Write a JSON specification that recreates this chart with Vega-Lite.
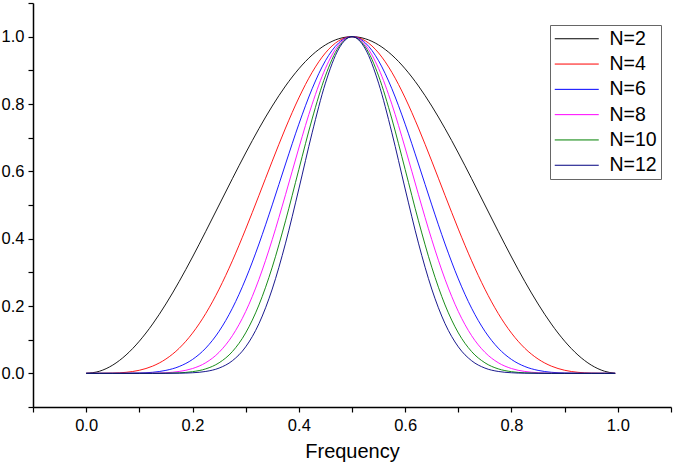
{
  "$schema": "https://vega.github.io/schema/vega-lite/v6.json",
  "autosize": {"type": "fit", "contains": "padding"},
  "width": 675,
  "height": 466,
  "padding": {"left": 1, "top": 2, "right": 3, "bottom": 4},
  "background": "white",
  "config": {
    "view": {"stroke": null},
    "font": "Liberation Sans",
    "axis": {"grid": false, "domainColor": "#000", "domainWidth": 1.5, "tickColor": "#000", "tickWidth": 1.2, "tickSize": 5, "labelFont": "Liberation Sans", "labelFontSize": 16.5, "labelColor": "#000", "titleFont": "Liberation Sans", "titleFontSize": 20, "titleFontWeight": "normal", "titleColor": "#000"}
  },
  "data": {
    "values": [
      {"x": 0, "N=2": 0, "N=4": 0, "N=6": 0, "N=8": 0, "N=10": 0, "N=12": 0},
      {"x": 0.025, "N=2": 0.0062, "N=4": 0.00004, "N=6": 0, "N=8": 0, "N=10": 0, "N=12": 0},
      {"x": 0.05, "N=2": 0.0245, "N=4": 0.0006, "N=6": 0.00001, "N=8": 0, "N=10": 0, "N=12": 0},
      {"x": 0.075, "N=2": 0.0545, "N=4": 0.003, "N=6": 0.00016, "N=8": 0.00001, "N=10": 0, "N=12": 0},
      {"x": 0.1, "N=2": 0.0955, "N=4": 0.0091, "N=6": 0.0009, "N=8": 0.0001, "N=10": 0.00001, "N=12": 0},
      {"x": 0.125, "N=2": 0.1464, "N=4": 0.0214, "N=6": 0.0031, "N=8": 0.0005, "N=10": 0.0001, "N=12": 0.00001},
      {"x": 0.15, "N=2": 0.2061, "N=4": 0.0425, "N=6": 0.0088, "N=8": 0.0018, "N=10": 0.0004, "N=12": 0.0001},
      {"x": 0.175, "N=2": 0.273, "N=4": 0.0745, "N=6": 0.0203, "N=8": 0.0056, "N=10": 0.0015, "N=12": 0.0004},
      {"x": 0.2, "N=2": 0.3455, "N=4": 0.1194, "N=6": 0.0412, "N=8": 0.0142, "N=10": 0.0049, "N=12": 0.0017},
      {"x": 0.225, "N=2": 0.4218, "N=4": 0.1779, "N=6": 0.075, "N=8": 0.0316, "N=10": 0.0133, "N=12": 0.0056},
      {"x": 0.25, "N=2": 0.5, "N=4": 0.25, "N=6": 0.125, "N=8": 0.0625, "N=10": 0.0313, "N=12": 0.0156},
      {"x": 0.275, "N=2": 0.5782, "N=4": 0.3343, "N=6": 0.1933, "N=8": 0.1118, "N=10": 0.0646, "N=12": 0.0374},
      {"x": 0.3, "N=2": 0.6545, "N=4": 0.4284, "N=6": 0.2804, "N=8": 0.1835, "N=10": 0.1201, "N=12": 0.0786},
      {"x": 0.325, "N=2": 0.727, "N=4": 0.5285, "N=6": 0.3842, "N=8": 0.2793, "N=10": 0.2031, "N=12": 0.1476},
      {"x": 0.35, "N=2": 0.7939, "N=4": 0.6303, "N=6": 0.5004, "N=8": 0.3972, "N=10": 0.3154, "N=12": 0.2504},
      {"x": 0.375, "N=2": 0.8536, "N=4": 0.7286, "N=6": 0.6219, "N=8": 0.5308, "N=10": 0.4531, "N=12": 0.3867},
      {"x": 0.4, "N=2": 0.9045, "N=4": 0.8181, "N=6": 0.74, "N=8": 0.6693, "N=10": 0.6054, "N=12": 0.5476},
      {"x": 0.425, "N=2": 0.9455, "N=4": 0.894, "N=6": 0.8453, "N=8": 0.7992, "N=10": 0.7556, "N=12": 0.7145},
      {"x": 0.45, "N=2": 0.9755, "N=4": 0.9517, "N=6": 0.9284, "N=8": 0.9056, "N=10": 0.8835, "N=12": 0.8619},
      {"x": 0.475, "N=2": 0.9938, "N=4": 0.9877, "N=6": 0.9816, "N=8": 0.9756, "N=10": 0.9696, "N=12": 0.9636},
      {"x": 0.5, "N=2": 1, "N=4": 1, "N=6": 1, "N=8": 1, "N=10": 1, "N=12": 1},
      {"x": 0.525, "N=2": 0.9938, "N=4": 0.9877, "N=6": 0.9816, "N=8": 0.9756, "N=10": 0.9696, "N=12": 0.9636},
      {"x": 0.55, "N=2": 0.9755, "N=4": 0.9517, "N=6": 0.9284, "N=8": 0.9056, "N=10": 0.8835, "N=12": 0.8619},
      {"x": 0.575, "N=2": 0.9455, "N=4": 0.894, "N=6": 0.8453, "N=8": 0.7992, "N=10": 0.7556, "N=12": 0.7145},
      {"x": 0.6, "N=2": 0.9045, "N=4": 0.8181, "N=6": 0.74, "N=8": 0.6693, "N=10": 0.6054, "N=12": 0.5476},
      {"x": 0.625, "N=2": 0.8536, "N=4": 0.7286, "N=6": 0.6219, "N=8": 0.5308, "N=10": 0.4531, "N=12": 0.3867},
      {"x": 0.65, "N=2": 0.7939, "N=4": 0.6303, "N=6": 0.5004, "N=8": 0.3972, "N=10": 0.3154, "N=12": 0.2504},
      {"x": 0.675, "N=2": 0.727, "N=4": 0.5285, "N=6": 0.3842, "N=8": 0.2793, "N=10": 0.2031, "N=12": 0.1476},
      {"x": 0.7, "N=2": 0.6545, "N=4": 0.4284, "N=6": 0.2804, "N=8": 0.1835, "N=10": 0.1201, "N=12": 0.0786},
      {"x": 0.725, "N=2": 0.5782, "N=4": 0.3343, "N=6": 0.1933, "N=8": 0.1118, "N=10": 0.0646, "N=12": 0.0374},
      {"x": 0.75, "N=2": 0.5, "N=4": 0.25, "N=6": 0.125, "N=8": 0.0625, "N=10": 0.0313, "N=12": 0.0156},
      {"x": 0.775, "N=2": 0.4218, "N=4": 0.1779, "N=6": 0.075, "N=8": 0.0316, "N=10": 0.0133, "N=12": 0.0056},
      {"x": 0.8, "N=2": 0.3455, "N=4": 0.1194, "N=6": 0.0412, "N=8": 0.0142, "N=10": 0.0049, "N=12": 0.0017},
      {"x": 0.825, "N=2": 0.273, "N=4": 0.0745, "N=6": 0.0203, "N=8": 0.0056, "N=10": 0.0015, "N=12": 0.0004},
      {"x": 0.85, "N=2": 0.2061, "N=4": 0.0425, "N=6": 0.0088, "N=8": 0.0018, "N=10": 0.0004, "N=12": 0.0001},
      {"x": 0.875, "N=2": 0.1464, "N=4": 0.0214, "N=6": 0.0031, "N=8": 0.0005, "N=10": 0.0001, "N=12": 0.00001},
      {"x": 0.9, "N=2": 0.0955, "N=4": 0.0091, "N=6": 0.0009, "N=8": 0.0001, "N=10": 0.00001, "N=12": 0},
      {"x": 0.925, "N=2": 0.0545, "N=4": 0.003, "N=6": 0.00016, "N=8": 0.00001, "N=10": 0, "N=12": 0},
      {"x": 0.95, "N=2": 0.0245, "N=4": 0.0006, "N=6": 0.00001, "N=8": 0, "N=10": 0, "N=12": 0},
      {"x": 0.975, "N=2": 0.0062, "N=4": 0.00004, "N=6": 0, "N=8": 0, "N=10": 0, "N=12": 0},
      {"x": 0.995, "N=2": 0, "N=4": 0, "N=6": 0, "N=8": 0, "N=10": 0, "N=12": 0}
    ]
  },
  "transform": [
    {"fold": ["N=2", "N=4", "N=6", "N=8", "N=10", "N=12"], "as": ["series", "y"]}
  ],
  "mark": {"type": "line", "strokeWidth": 0.9, "interpolate": "monotone"},
  "encoding": {
    "x": {
      "field": "x", "type": "quantitative",
      "scale": {"domain": [-0.1, 1.1], "nice": false, "zero": false},
      "axis": {
        "title": "Frequency",
        "values": [-0.1, 0, 0.1, 0.2, 0.3, 0.4, 0.5, 0.6, 0.7, 0.8, 0.9, 1.0, 1.1],
        "labelExpr": "abs(round(datum.value*10)) % 2 == 0 ? format(datum.value, '.1f') : ''",
        "labelPadding": 5,
        "titlePadding": 8
      }
    },
    "y": {
      "field": "y", "type": "quantitative",
      "scale": {"domain": [-0.1, 1.1], "nice": false, "zero": false},
      "axis": {
        "title": null,
        "values": [-0.1, 0, 0.1, 0.2, 0.3, 0.4, 0.5, 0.6, 0.7, 0.8, 0.9, 1.0, 1.1],
        "labelExpr": "abs(round(datum.value*10)) % 2 == 0 ? format(datum.value, '.1f') : ''",
        "labelPadding": 4
      }
    },
    "color": {
      "field": "series", "type": "nominal",
      "scale": {
        "domain": ["N=2", "N=4", "N=6", "N=8", "N=10", "N=12"],
        "range": ["#000000", "#ff0000", "#0000ff", "#ff00ff", "#008000", "#000080"]
      },
      "legend": {
        "title": null,
        "orient": "none",
        "legendX": 517,
        "legendY": 22,
        "strokeColor": "#666",
        "padding": 4,
        "symbolType": "M-4,0H4",
        "symbolSize": 121,
        "symbolStrokeWidth": 1,
        "symbolOffset": 13,
        "labelOffset": 23,
        "labelFont": "Liberation Sans",
        "labelFontSize": 19.5,
        "labelColor": "#000",
        "rowPadding": 4.3
      }
    }
  }
}
